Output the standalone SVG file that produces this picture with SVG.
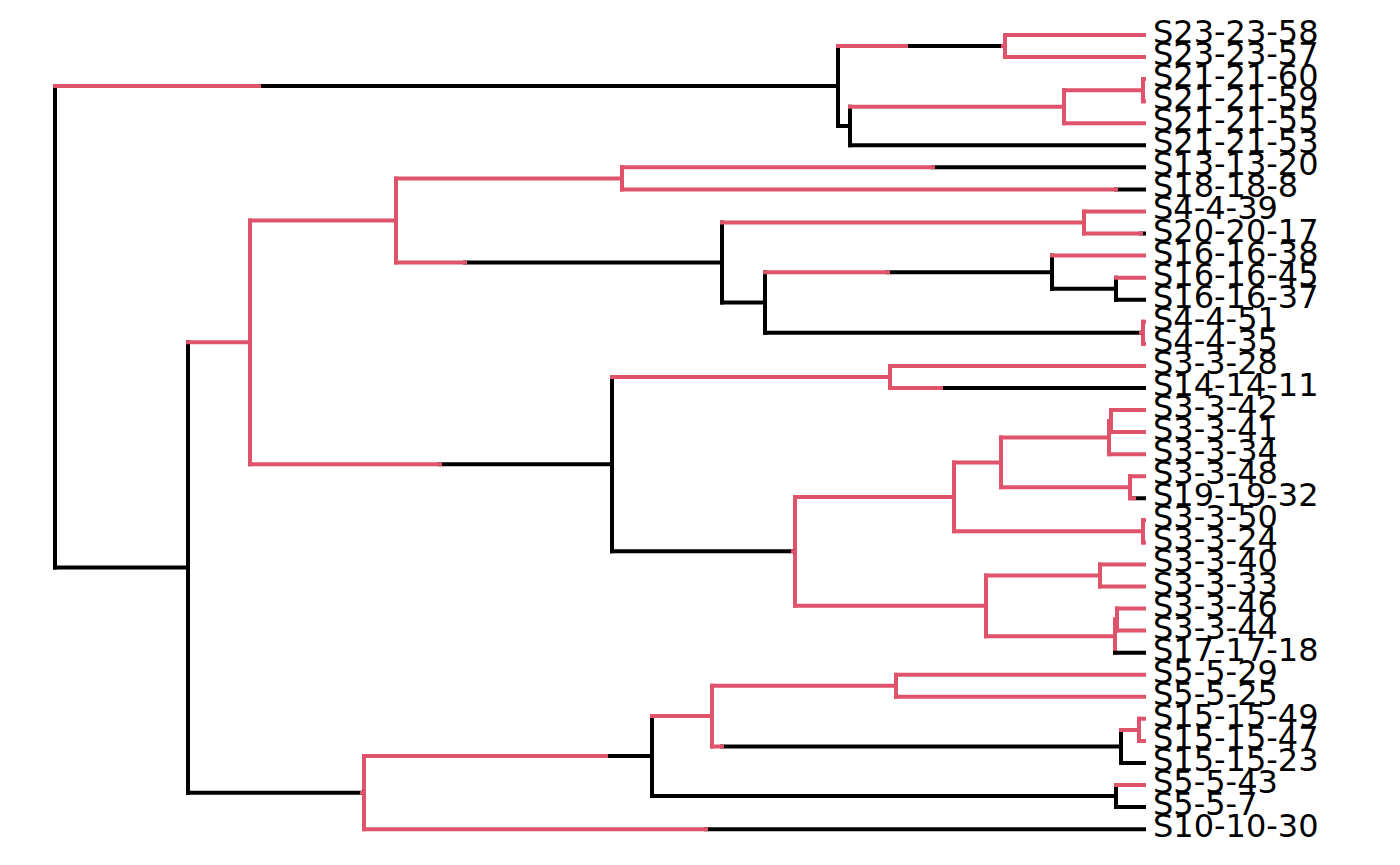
<svg xmlns="http://www.w3.org/2000/svg" width="1400" height="865" viewBox="0 0 1400 865">
<style>
.k{stroke:#000000;stroke-width:4;fill:none;stroke-linecap:square}
.p{stroke:#DF536B;stroke-width:4;fill:none;stroke-linecap:square}
.lb{font-family:"DejaVu Sans","Liberation Sans",sans-serif;font-size:32px;fill:#000000}
</style>
<rect x="0" y="0" width="1400" height="865" fill="#ffffff"/>
<g id="connectors">
<path class="k" d="M55 86.01V567.46 M838 46.03V126 M850 106.7V145.3 M188 342.29V792.63 M722 222.51V302.48 M765 272.15V332.81 M1052 255.6V288.69 M1116 277.66V299.72 M612 376.93V551.34 M652 716.1V796.07 M1121 729.89V762.98 M1116 785.04V807.1"/>
<path class="p" d="M1005 35V57.06 M1064 90.15V123.24 M1143 79.12V101.18 M250 220.44V464.14 M396 178.39V262.5 M622 167.36V189.42 M1084 211.48V233.54 M1143 321.78V343.84 M890 365.9V387.96 M795 496.88V605.8 M954 462.41V531.35 M1001 437.6V487.23 M1109 421.05V454.14 M1111 410.02V432.08 M1130 476.2V498.26 M1143 520.32V542.38 M986 575.47V636.14 M1100 564.44V586.5 M1117 608.56V630.62 M1115 619.59V652.68 M364 756.09V829.16 M712 685.77V746.44 M896 674.74V696.8 M1139 718.86V740.92"/>
<path class="k" d="M259 86.01H838 M906 46.03H1003 M838 126H850 M850 145.3H1144 M55 567.46H188 M933 167.36H1144 M1116 189.42H1144 M465 262.5H722 M1141 233.54H1144 M722 302.48H765 M888 272.15H1052 M1052 288.69H1116 M1116 299.72H1144 M765 332.81H1141 M440 464.14H612 M941 387.96H1144 M612 551.34H793 M1134 498.26H1144 M1115 652.68H1144 M188 792.63H362 M606 756.09H652 M722 746.44H1121 M1121 762.98H1144 M652 796.07H1116 M1116 807.1H1144 M706 829.16H1144"/>
<path class="p" d="M55 86.01H259 M838 46.03H906 M1003 46.03H1005 M1005 35H1144 M1005 57.06H1144 M850 106.7H1064 M1064 90.15H1143 M1143 79.12H1144 M1143 101.18H1144 M1064 123.24H1144 M188 342.29H250 M250 220.44H396 M396 178.39H622 M622 167.36H933 M622 189.42H1116 M396 262.5H465 M722 222.51H1084 M1084 211.48H1144 M1084 233.54H1141 M765 272.15H888 M1052 255.6H1144 M1116 277.66H1144 M1141 332.81H1143 M1143 321.78H1144 M1143 343.84H1144 M250 464.14H440 M612 376.93H890 M890 365.9H1144 M890 387.96H941 M793 551.34H795 M795 496.88H954 M954 462.41H1001 M1001 437.6H1109 M1109 421.05H1111 M1111 410.02H1144 M1111 432.08H1144 M1109 454.14H1144 M1001 487.23H1130 M1130 476.2H1144 M1130 498.26H1134 M954 531.35H1143 M1143 520.32H1144 M1143 542.38H1144 M795 605.8H986 M986 575.47H1100 M1100 564.44H1144 M1100 586.5H1144 M986 636.14H1115 M1115 619.59H1117 M1117 608.56H1144 M1117 630.62H1144 M362 792.63H364 M364 756.09H606 M652 716.1H712 M712 685.77H896 M896 674.74H1144 M896 696.8H1144 M712 746.44H722 M1121 729.89H1139 M1139 718.86H1144 M1139 740.92H1144 M1116 785.04H1144 M364 829.16H706"/>
</g>
<g id="tip-S23-23-58"><text class="lb" x="1153" y="43">S23-23-58</text></g>
<g id="tip-S23-23-57"><text class="lb" x="1153" y="65.06">S23-23-57</text></g>
<g id="tip-S21-21-60"><text class="lb" x="1153" y="87.12">S21-21-60</text></g>
<g id="tip-S21-21-59"><text class="lb" x="1153" y="109.18">S21-21-59</text></g>
<g id="tip-S21-21-55"><text class="lb" x="1153" y="131.24">S21-21-55</text></g>
<g id="tip-S21-21-53"><text class="lb" x="1153" y="153.3">S21-21-53</text></g>
<g id="tip-S13-13-20"><text class="lb" x="1153" y="175.36">S13-13-20</text></g>
<g id="tip-S18-18-8"><text class="lb" x="1153" y="197.42">S18-18-8</text></g>
<g id="tip-S4-4-39"><text class="lb" x="1153" y="219.48">S4-4-39</text></g>
<g id="tip-S20-20-17"><text class="lb" x="1153" y="241.54">S20-20-17</text></g>
<g id="tip-S16-16-38"><text class="lb" x="1153" y="263.6">S16-16-38</text></g>
<g id="tip-S16-16-45"><text class="lb" x="1153" y="285.66">S16-16-45</text></g>
<g id="tip-S16-16-37"><text class="lb" x="1153" y="307.72">S16-16-37</text></g>
<g id="tip-S4-4-51"><text class="lb" x="1153" y="329.78">S4-4-51</text></g>
<g id="tip-S4-4-35"><text class="lb" x="1153" y="351.84">S4-4-35</text></g>
<g id="tip-S3-3-28"><text class="lb" x="1153" y="373.9">S3-3-28</text></g>
<g id="tip-S14-14-11"><text class="lb" x="1153" y="395.96">S14-14-11</text></g>
<g id="tip-S3-3-42"><text class="lb" x="1153" y="418.02">S3-3-42</text></g>
<g id="tip-S3-3-41"><text class="lb" x="1153" y="440.08">S3-3-41</text></g>
<g id="tip-S3-3-34"><text class="lb" x="1153" y="462.14">S3-3-34</text></g>
<g id="tip-S3-3-48"><text class="lb" x="1153" y="484.2">S3-3-48</text></g>
<g id="tip-S19-19-32"><text class="lb" x="1153" y="506.26">S19-19-32</text></g>
<g id="tip-S3-3-50"><text class="lb" x="1153" y="528.32">S3-3-50</text></g>
<g id="tip-S3-3-24"><text class="lb" x="1153" y="550.38">S3-3-24</text></g>
<g id="tip-S3-3-40"><text class="lb" x="1153" y="572.44">S3-3-40</text></g>
<g id="tip-S3-3-33"><text class="lb" x="1153" y="594.5">S3-3-33</text></g>
<g id="tip-S3-3-46"><text class="lb" x="1153" y="616.56">S3-3-46</text></g>
<g id="tip-S3-3-44"><text class="lb" x="1153" y="638.62">S3-3-44</text></g>
<g id="tip-S17-17-18"><text class="lb" x="1153" y="660.68">S17-17-18</text></g>
<g id="tip-S5-5-29"><text class="lb" x="1153" y="682.74">S5-5-29</text></g>
<g id="tip-S5-5-25"><text class="lb" x="1153" y="704.8">S5-5-25</text></g>
<g id="tip-S15-15-49"><text class="lb" x="1153" y="726.86">S15-15-49</text></g>
<g id="tip-S15-15-47"><text class="lb" x="1153" y="748.92">S15-15-47</text></g>
<g id="tip-S15-15-23"><text class="lb" x="1153" y="770.98">S15-15-23</text></g>
<g id="tip-S5-5-43"><text class="lb" x="1153" y="793.04">S5-5-43</text></g>
<g id="tip-S5-5-7"><text class="lb" x="1153" y="815.1">S5-5-7</text></g>
<g id="tip-S10-10-30"><text class="lb" x="1153" y="837.16">S10-10-30</text></g>
</svg>
